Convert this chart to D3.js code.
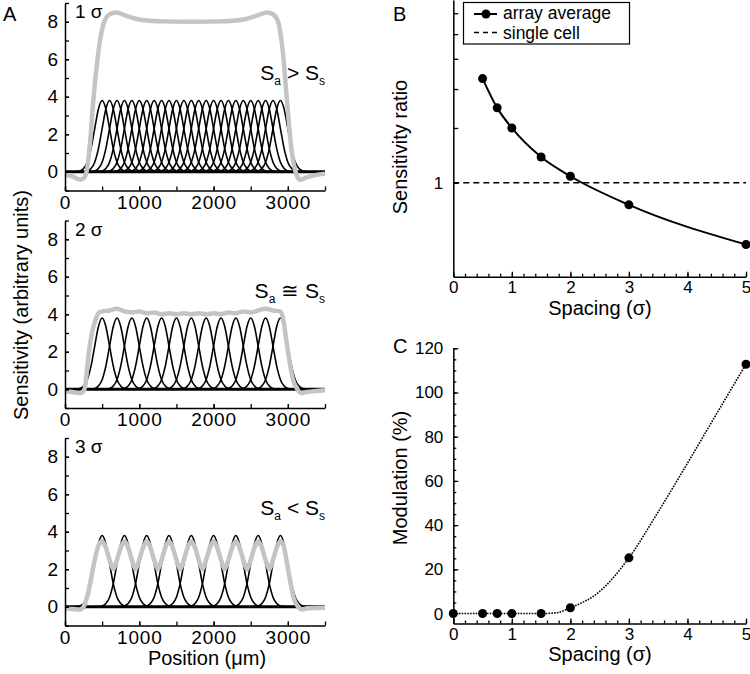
<!DOCTYPE html>
<html>
<head>
<meta charset="utf-8">
<script src="https://cdn.jsdelivr.net/npm/d3@7"></script>
<style>
  body { margin: 0; background: #fff; }
  svg { display: block; font-family: "Liberation Sans", Arial, Helvetica, sans-serif; }
</style>
</head>
<body>
<svg id="fig" width="750" height="674"></svg>
<script>
// ---------- values ----------
// panel A
const posTicks = [0, 1000, 2000, 3000];
const posMinor = [0, 500, 1000, 1500, 2000, 2500, 3000, 3500];
const sensTicks = [0, 2, 4, 6, 8];
const sensMinor = [-1, 0, 1, 2, 3, 4, 5, 6, 7, 8, 9];
const spacingLabels = ["1 σ", "2 σ", "3 σ"];
const relationSigns = [" > ", " ≅ ", " < "];

// profile of one cell: offset from its centre (um) -> sensitivity
const cellOffset = [-400, -350, -300, -250, -200, -150, -100, -50, 0, 50, 100, 150, 200, 250, 300, 350, 400];
const cellSens = [0, 0.01, 0.04, 0.17, 0.51, 1.23, 2.3, 3.35, 3.8, 3.35, 2.3, 1.23, 0.51, 0.17, 0.04, 0.01, 0];

const centers1 = [500, 600, 700, 800, 900, 1000, 1100, 1200, 1300, 1400, 1500, 1600, 1700,
  1800, 1900, 2000, 2100, 2200, 2300, 2400, 2500, 2600, 2700, 2800, 2900];
const centers2 = [500, 700, 900, 1100, 1300, 1500, 1700, 1900, 2100, 2300, 2500, 2700, 2900];
const centers3 = [500, 800, 1100, 1400, 1700, 2000, 2300, 2600, 2900];

// grey array sensitivity
const arrayX1 = [0, 100, 200, 250, 290, 336, 381, 426, 471, 500, 538, 600, 695, 800, 1000, 1300, 1700,
  2100, 2400, 2600, 2720, 2800, 2860, 2900, 2935, 2965, 3005, 3045, 3080, 3120, 3165, 3250, 3500];
const arrayY1 = [-0.15, -0.25, -0.42, -0.35, 0.0, 1.5, 3.8, 5.6, 7.0, 7.6, 8.1, 8.4, 8.5, 8.35, 8.12, 8.02, 8.0,
  8.02, 8.12, 8.35, 8.5, 8.4, 8.1, 7.4, 6.3, 4.9, 3.0, 1.3, 0.4, -0.2, -0.43, -0.3, -0.1];

const arrayX2 = [0, 100, 200, 250, 280, 300, 340, 380, 420, 460, 500, 600, 700, 800, 900, 1000, 1100, 1200,
  1300, 1400, 1500, 1600, 1700, 1800, 1900, 2000, 2100, 2200, 2300, 2400, 2500, 2600, 2700, 2800, 2900,
  2940, 2980, 3030, 3070, 3120, 3180, 3250, 3500];
const arrayY2 = [-0.1, -0.15, -0.2, -0.1, 0.4, 1.2, 2.5, 3.3, 3.8, 4.1, 4.15, 4.2, 4.3, 4.15, 4.1, 4.15, 4.05, 4.1,
  4.0, 4.05, 4.0, 4.05, 4.0, 4.05, 4.0, 4.05, 4.0, 4.1, 4.05, 4.15, 4.1, 4.2, 4.3, 4.2, 4.15,
  3.7, 2.6, 1.3, 0.5, 0.05, -0.2, -0.15, -0.05];

const arrayX3 = [0, 100, 200, 250, 270, 310, 360, 400, 430, 460,
  500, 550, 600, 650, 700, 750,
  800, 850, 900, 950, 1000, 1050,
  1100, 1150, 1200, 1250, 1300, 1350,
  1400, 1450, 1500, 1550, 1600, 1650,
  1700, 1750, 1800, 1850, 1900, 1950,
  2000, 2050, 2100, 2150, 2200, 2250,
  2300, 2350, 2400, 2450, 2500, 2550,
  2600, 2650, 2700, 2750, 2800, 2850,
  2900, 2940, 2985, 3030, 3075, 3140, 3185, 3260, 3500];
const arrayY3 = [-0.1, -0.12, -0.15, 0.0, 0.18, 0.7, 1.7, 2.5, 3.0, 3.35,
  3.5, 3.15, 2.5, 2.0, 2.5, 3.15,
  3.5, 3.15, 2.5, 2.0, 2.5, 3.15,
  3.5, 3.15, 2.5, 2.0, 2.5, 3.15,
  3.5, 3.15, 2.5, 2.0, 2.5, 3.15,
  3.5, 3.15, 2.5, 2.0, 2.5, 3.15,
  3.5, 3.15, 2.5, 2.0, 2.5, 3.15,
  3.5, 3.15, 2.5, 2.0, 2.5, 3.15,
  3.5, 3.15, 2.5, 2.0, 2.5, 3.15,
  3.5, 3.3, 2.4, 1.4, 0.5, 0.0, -0.14, -0.08, -0.05];

// panel B
const spacingB = [0.5, 0.75, 1, 1.5, 2, 3, 5];
const ratioB = [2.16, 1.74, 1.5, 1.21, 1.05, 0.85, 0.634];
const singleCellRatio = 1;
const ratioTicks = [1, 1.5, 2, 2.5, 3, 3.5];

// panel C: measured points and the dotted fitted curve through them
const spacingC = [0, 0.5, 0.75, 1, 1.5, 2, 3, 5];
const modulationC = [0, 0, 0, 0, 0, 2.6, 25.2, 112.8];
const fitSpacingC = [0, 0.5, 1, 1.5, 1.75, 2, 2.5, 3, 3.5, 4, 4.5, 5];
const fitModulationC = [0, 0, 0, 0, 0.3, 2.6, 10, 25.2, 46, 68, 90.5, 112.8];
const modTicks = [0, 20, 40, 60, 80, 100, 120];
const modMinor = [0, 5, 10, 15, 20, 25, 30, 35, 40, 45, 50, 55, 60, 65, 70, 75, 80, 85, 90, 95, 100, 105, 110, 115, 120];

const spacingTicks = [0, 1, 2, 3, 4, 5];
const spacingMinor = [0, 0.2, 0.4, 0.6, 0.8, 1, 1.2, 1.4, 1.6, 1.8, 2, 2.2, 2.4, 2.6, 2.8, 3,
  3.2, 3.4, 3.6, 3.8, 4, 4.2, 4.4, 4.6, 4.8, 5];

// ---------- drawing ----------
const svg = d3.select("#fig");

function axis(g, axisFn, scale, major, minor, fmt, majorLen, minorLen, pad, fs, spacing) {
  const gMinor = g.append("g").call(
    axisFn(scale).tickValues(minor).tickSize(-minorLen).tickSizeOuter(0).tickFormat("")
  );
  gMinor.select(".domain").remove();
  g.append("g").call(
    axisFn(scale).tickValues(major).tickSize(-majorLen).tickSizeOuter(0).tickPadding(pad).tickFormat(fmt)
  );
  g.selectAll("line").attr("stroke", "#000").attr("stroke-width", 1.3);
  g.selectAll(".domain").attr("stroke", "#000").attr("stroke-width", 1.5);
  g.selectAll("text").attr("font-size", fs).attr("fill", "#000")
    .attr("letter-spacing", spacing || 0)
    .attr("font-family", '"Liberation Sans", Arial, Helvetica, sans-serif');
  return g;
}

// ---- panel A ----
const xA = d3.scaleLinear().domain([0, 3500]).range([65, 325]);
const panelTops = [3, 220.5, 438];
const centerSets = [centers1, centers2, centers3];
const arrays = [[arrayX1, arrayY1], [arrayX2, arrayY2], [arrayX3, arrayY3]];

panelTops.forEach((top, i) => {
  const yA = d3.scaleLinear().domain([-1, 9]).range([top + 187.5, top]);
  const lineFn = d3.line().x(d => xA(d[0])).y(d => yA(d[1])).curve(d3.curveMonotoneX);

  const g = svg.append("g");

  // baseline at zero
  g.append("path")
    .attr("d", lineFn([[0, 0], [3500, 0]]))
    .attr("stroke", "#000").attr("stroke-width", 3).attr("fill", "none");

  // individual cells
  g.selectAll("path.cell")
    .data(centerSets[i])
    .join("path")
    .attr("class", "cell")
    .attr("d", c => lineFn(cellOffset.map((o, k) => [c + o, cellSens[k]])))
    .attr("fill", "none").attr("stroke", "#000").attr("stroke-width", 1.6);

  // array sum (grey)
  const [ax, ay] = arrays[i];
  g.append("path")
    .attr("d", lineFn(d3.zip(ax, ay)))
    .attr("fill", "none").attr("stroke", "#c4c4c4").attr("stroke-width", 4.5)
    .attr("stroke-linejoin", "round");

  // axes
  axis(g.append("g").attr("transform", `translate(0,${yA(-1)})`),
    d3.axisBottom, xA, posTicks, posMinor, d3.format("d"), 4, 4, 5, 19, 0.8);
  axis(g.append("g").attr("transform", `translate(${xA(0)},0)`),
    d3.axisLeft, yA, sensTicks, sensMinor, d3.format("d"), 4, 4, 7, 19);

  g.append("text").attr("x", 75).attr("y", top + 15)
    .attr("font-size", 19).text(spacingLabels[i]);

  const rel = g.append("text").attr("x", xA(3500)).attr("y", top + 77)
    .attr("text-anchor", "end").attr("font-size", 21);
  rel.append("tspan").text("S");
  rel.append("tspan").attr("font-size", 12).attr("dy", 5).text("a");
  rel.append("tspan").attr("dy", -5).text(relationSigns[i] + "S");
  rel.append("tspan").attr("font-size", 12).attr("dy", 5).text("s");
});

svg.append("text").attr("transform", "translate(28,305) rotate(-90)")
  .attr("text-anchor", "middle").attr("font-size", 20).text("Sensitivity (arbitrary units)");
svg.append("text").attr("x", 207).attr("y", 665)
  .attr("text-anchor", "middle").attr("font-size", 20).text("Position (μm)");
svg.append("text").attr("x", 3).attr("y", 21).attr("font-size", 20).text("A");

// ---- panel B ----
const xB = d3.scaleLinear().domain([0, 5]).range([453.3, 746]);
const yB = d3.scaleLog().domain([0.5, 3.86]).range([276.7, 0]);
const gB = svg.append("g");

gB.append("path")
  .attr("d", d3.line()([[xB(0), yB(singleCellRatio)], [xB(5), yB(singleCellRatio)]]))
  .attr("stroke", "#000").attr("stroke-width", 1.5).attr("stroke-dasharray", "6,4").attr("fill", "none");

const lineB = d3.line().x((d, i) => xB(spacingB[i])).y(d => yB(d)).curve(d3.curveMonotoneX);
gB.append("path").attr("d", lineB(ratioB))
  .attr("fill", "none").attr("stroke", "#000").attr("stroke-width", 2);
gB.selectAll("circle").data(ratioB).join("circle")
  .attr("cx", (d, i) => xB(spacingB[i])).attr("cy", d => yB(d)).attr("r", 4.5).attr("fill", "#000");

axis(gB.append("g").attr("transform", `translate(0,${yB(0.5)})`),
  d3.axisBottom, xB, spacingTicks, spacingMinor, d3.format("d"), 5, 3, 4, 17);
axis(gB.append("g").attr("transform", `translate(${xB(0)},0)`),
  d3.axisLeft, yB, ratioTicks, [], d => (d === 1 ? "1" : ""), 5, 3, 10, 17);

// legend
const leg = gB.append("g");
leg.append("rect").attr("x", 463.5).attr("y", 2.5).attr("width", 166).attr("height", 41.5)
  .attr("fill", "#fff").attr("stroke", "#000").attr("stroke-width", 1.2);
leg.append("line").attr("x1", 474).attr("x2", 497).attr("y1", 14).attr("y2", 14)
  .attr("stroke", "#000").attr("stroke-width", 2);
leg.append("circle").attr("cx", 486).attr("cy", 14).attr("r", 4.5).attr("fill", "#000");
leg.append("line").attr("x1", 474).attr("x2", 497).attr("y1", 32.5).attr("y2", 32.5)
  .attr("stroke", "#000").attr("stroke-width", 1.5).attr("stroke-dasharray", "5,4");
leg.append("text").attr("x", 503).attr("y", 18.5).attr("font-size", 17.5).text("array average");
leg.append("text").attr("x", 503).attr("y", 38.5).attr("font-size", 17.5).text("single cell");

svg.append("text").attr("transform", "translate(407,147) rotate(-90)")
  .attr("text-anchor", "middle").attr("font-size", 20).text("Sensitivity ratio");
svg.append("text").attr("x", 600).attr("y", 315)
  .attr("text-anchor", "middle").attr("font-size", 20).text("Spacing (σ)");
svg.append("text").attr("x", 393).attr("y", 21).attr("font-size", 20).text("B");

// ---- panel C ----
const yC = d3.scaleLinear().domain([-4.5, 120]).range([623.5, 348.3]);
const gC = svg.append("g");

const lineC = d3.line().x((d, i) => xB(fitSpacingC[i])).y(d => yC(d)).curve(d3.curveMonotoneX);
gC.append("path").attr("d", lineC(fitModulationC))
  .attr("fill", "none").attr("stroke", "#000").attr("stroke-width", 1.6).attr("stroke-dasharray", "1.6,1.2");
gC.selectAll("circle").data(modulationC).join("circle")
  .attr("cx", (d, i) => xB(spacingC[i])).attr("cy", d => yC(d)).attr("r", 4.5).attr("fill", "#000");

axis(gC.append("g").attr("transform", `translate(0,${yC(-4.5)})`),
  d3.axisBottom, xB, spacingTicks, spacingMinor, d3.format("d"), 5, 3, 4, 17);
axis(gC.append("g").attr("transform", `translate(${xB(0)},0)`),
  d3.axisLeft, yC, modTicks, modMinor, d3.format("d"), 5, 3, 10, 17);

svg.append("text").attr("transform", "translate(407,478) rotate(-90)")
  .attr("text-anchor", "middle").attr("font-size", 20).text("Modulation (%)");
svg.append("text").attr("x", 600).attr("y", 661)
  .attr("text-anchor", "middle").attr("font-size", 20).text("Spacing (σ)");
svg.append("text").attr("x", 393).attr("y", 353).attr("font-size", 20).text("C");
</script>
</body>
</html>
